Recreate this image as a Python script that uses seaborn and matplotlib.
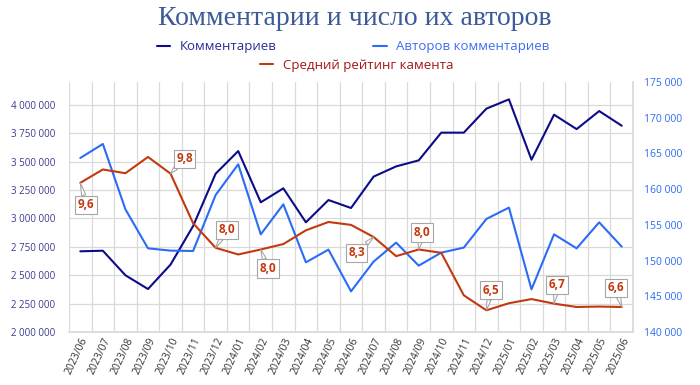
import numpy as np
import pandas as pd
import matplotlib.pyplot as plt
import seaborn as sns
from matplotlib.ticker import FuncFormatter, MultipleLocator, FixedLocator


months = [
    "2023/06", "2023/07", "2023/08", "2023/09", "2023/10", "2023/11", "2023/12",
    "2024/01", "2024/02", "2024/03", "2024/04", "2024/05", "2024/06", "2024/07",
    "2024/08", "2024/09", "2024/10", "2024/11", "2024/12", "2025/01", "2025/02",
    "2025/03", "2025/04", "2025/05", "2025/06",
]
comments = [
    2710000, 2715000, 2499000, 2378000, 2593000, 2932000, 3393000,
    3592000, 3141000, 3264000, 2965000, 3161000, 3091000, 3367000,
    3457000, 3510000, 3754000, 3754000, 3965000, 4047000, 3516000,
    3912000, 3785000, 3944000, 3815000,
]
authors = [
    164360, 166320, 157170, 151710, 151390, 151340, 159180,
    163470, 153670, 157870, 149750, 151530, 145690, 149850,
    152510, 149290, 151110, 151810, 155820, 157410, 145970,
    153670, 151710, 155350, 151950,
]
rating = [
    9.58, 9.90, 9.81, 10.20, 9.80, 8.61, 8.02,
    7.86, 7.98, 8.11, 8.44, 8.64, 8.57, 8.28,
    7.82, 7.98, 7.90, 6.88, 6.52, 6.69, 6.79,
    6.68, 6.60, 6.61, 6.60,
]

# which rating points get a callout, and where the box sits (pixels)
label_idx = [0, 4, 6, 8, 13, 15, 18, 21, 24]
label_off = [(6, -22), (14, 15), (11, 18), (7, -19), (-17, -16),
             (3, 17), (5, 20), (3, 19), (-6, 19)]

NAVY = "#0c0c88"
BLUE = "#2a6cf6"
RED = "#c2390e"
GRID = "#d9d9d9"

df = pd.DataFrame({"pos": np.arange(len(months)), "month": months,
                   "comments": comments, "authors": authors, "rating": rating})

sns.set_theme(style="white")
plt.rcParams["font.family"] = ["Open Sans", "DejaVu Sans"]

fig = plt.figure(figsize=(7, 3.85), dpi=100)
ax = fig.add_axes([0.0986, 0.1377, 0.8057, 0.6494])
ax2 = ax.twinx()
ax3 = ax.twinx()

sns.lineplot(data=df, x="pos", y="comments", ax=ax, color=NAVY, lw=1.5, zorder=3)
sns.lineplot(data=df, x="pos", y="authors", ax=ax2, color=BLUE, lw=1.5, zorder=2)
sns.lineplot(data=df, x="pos", y="rating", ax=ax3, color=RED, lw=1.5, zorder=4)

# left axis
ax.set_ylim(2000000, 4200000)
ax.yaxis.set_major_locator(FixedLocator(np.arange(2000000, 4000001, 250000)))
ax.yaxis.set_major_formatter(FuncFormatter(lambda v, p: f"{int(v):,}".replace(",", " ")))
ax.tick_params(axis="y", labelsize=7, colors="#3b3b8f", length=0, pad=10)
ax.set_xlim(-0.5, len(months) - 0.5)
ax.set_xticks(df["pos"])
ax.set_xticklabels(months, rotation=65, ha="right", rotation_mode="anchor",
                   fontsize=7.5, color="#333333")
ax.tick_params(axis="x", length=0, pad=3)
ax.xaxis.set_minor_locator(MultipleLocator(1, offset=0.5))
ax.grid(axis="y", which="major", color=GRID, lw=0.9)
ax.grid(axis="x", which="minor", color=GRID, lw=0.9)
ax.set_xlabel("")
ax.set_ylabel("")

# right axis
ax2.set_ylim(140000, 175000)
ax2.yaxis.set_major_locator(MultipleLocator(5000))
ax2.yaxis.set_major_formatter(FuncFormatter(lambda v, p: f"{int(v):,}".replace(",", " ")))
ax2.tick_params(axis="y", labelsize=7.5, colors=BLUE, length=0, pad=8)
ax2.set_ylabel("")
ax2.grid(False)

# hidden rating axis
ax3.set_ylim(6, 12)
ax3.set_yticks([])
ax3.set_ylabel("")
ax3.grid(False)

for a in (ax, ax2, ax3):
    for s in a.spines.values():
        s.set_visible(False)
ax2.spines["right"].set_visible(True)
ax2.spines["right"].set_color(GRID)
ax.spines["bottom"].set_visible(True)
ax.spines["bottom"].set_color(GRID)

for i, (dx, dy) in zip(label_idx, label_off):
    ax3.annotate(f"{rating[i]:.1f}".replace(".", ","), xy=(i, rating[i]),
                 xytext=(dx, dy), textcoords="offset pixels",
                 ha="center", va="center", fontsize=8.5, fontweight="bold", color=RED,
                 bbox=dict(boxstyle="square,pad=0.22", fc="white", ec="#a6a6a6", lw=0.8),
                 arrowprops=dict(arrowstyle="wedge,tail_width=0.35,shrink_factor=0.5",
                                 fc="white", ec="#a6a6a6", lw=0.8, shrinkA=0, shrinkB=0),
                 zorder=6)

fig.text(0.507, 0.953, "Комментарии и число их авторов", ha="center", va="center",
         fontsize=20, color="#3b5a97", family="Liberation Serif")

h1 = ax.get_lines()[0]
h2 = ax2.get_lines()[0]
h3 = ax3.get_lines()[0]
leg1 = fig.legend([h1, h2], ["Комментариев", "Авторов комментариев"], ncol=2,
                  loc="center", bbox_to_anchor=(0.505, 0.878), frameon=False,
                  fontsize=9.5, handlelength=1.0, handletextpad=0.75,
                  columnspacing=7.3, labelcolor=["#2b2b95", "#3a6ef2"])
leg2 = fig.legend([h3], ["Средний рейтинг камента"], loc="center",
                  bbox_to_anchor=(0.51, 0.831), frameon=False, fontsize=9.5,
                  handlelength=1.0, handletextpad=0.75, labelcolor=["#a31616"])

fig.savefig("out.png", dpi=100)
